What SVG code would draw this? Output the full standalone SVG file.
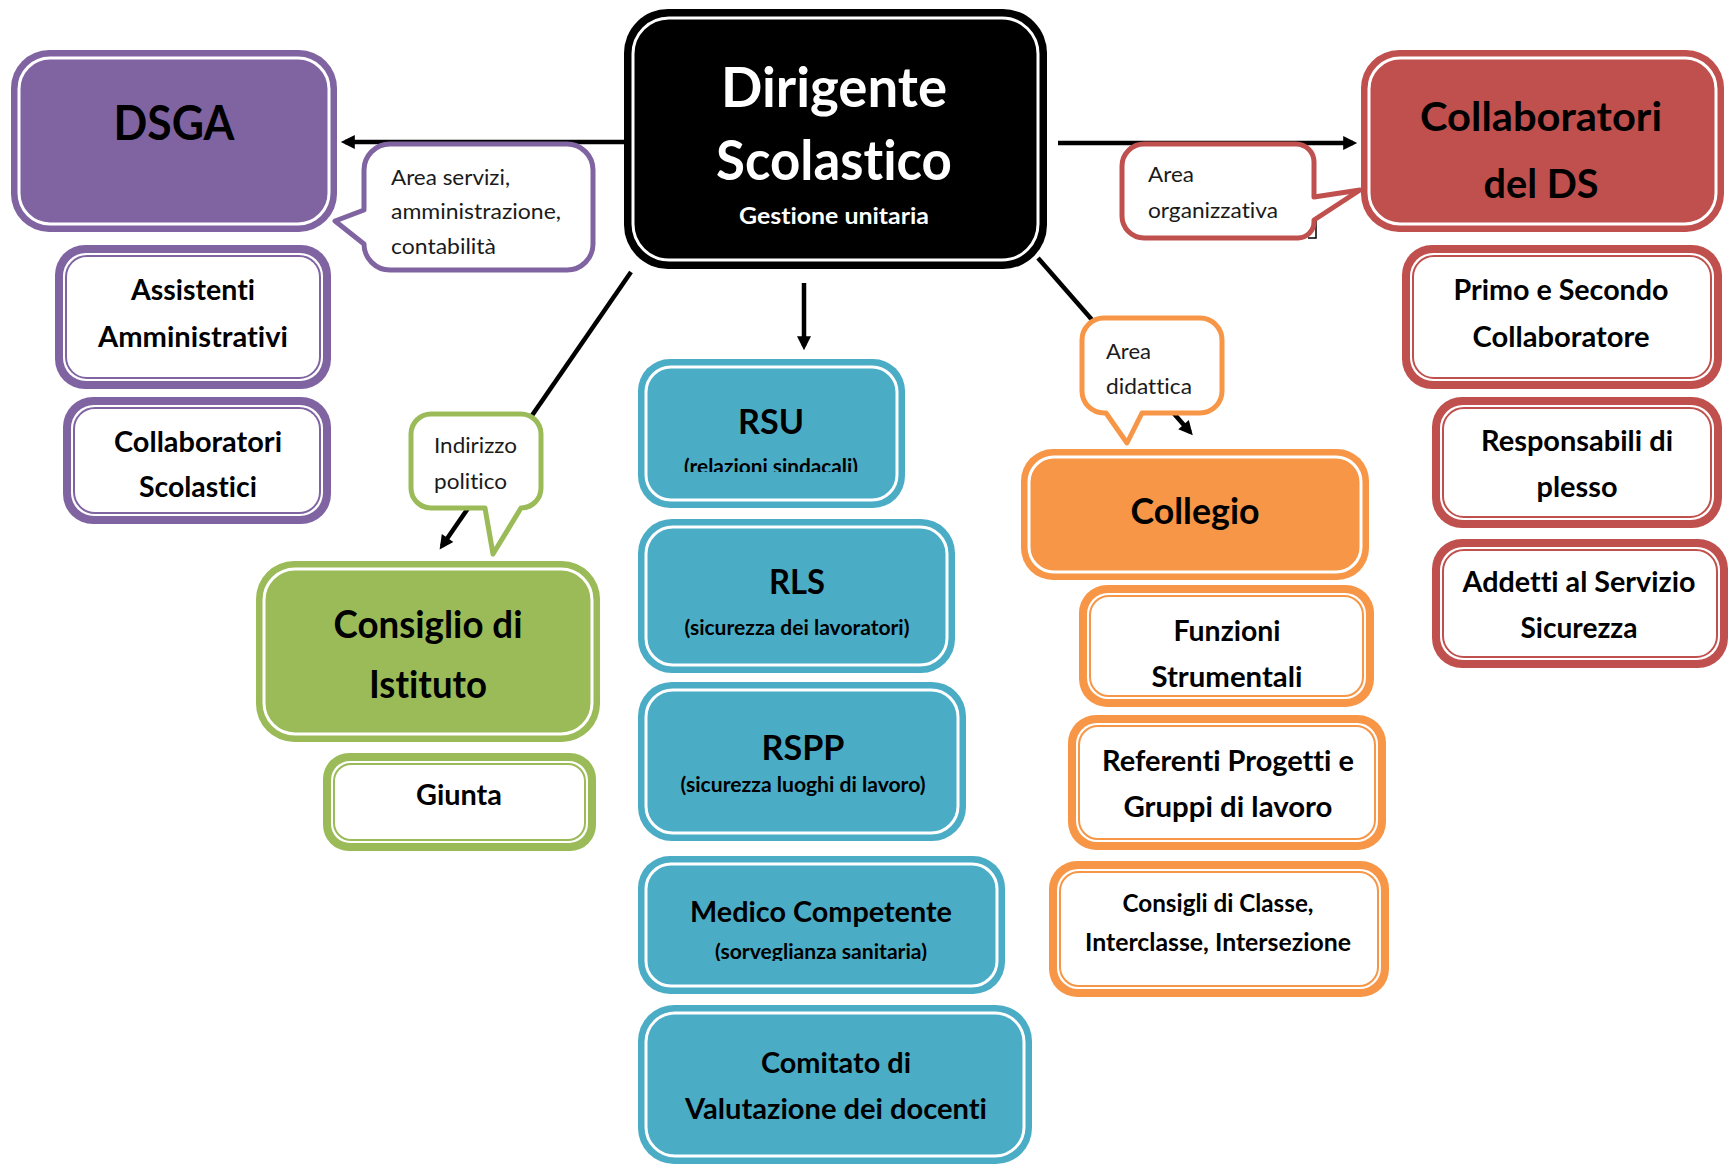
<svg xmlns="http://www.w3.org/2000/svg" width="1731" height="1166" viewBox="0 0 1731 1166">
<defs>
<style>
text{font-variant-ligatures:none;font-feature-settings:"liga" 0,"clig" 0}
.t{font-family:Lato,"Liberation Sans",sans-serif;font-weight:700;text-anchor:middle;fill:#000}
.w{fill:#fff}
.c{font-family:Lato,"Liberation Sans",sans-serif;font-weight:400;fill:#1a1a1a;font-size:22px}
.ln{stroke:#000;stroke-width:4.5;fill:none}
.pu{fill:#8064A2}.gr{fill:#9BBB59}.bl{fill:#4BACC6}.or{fill:#F79646}.rd{fill:#C0504D}
.wf{fill:#fff}
.wl{stroke:#fff;stroke-width:3}
.s-pu{stroke:#8064A2}.s-gr{stroke:#9BBB59}.s-or{stroke:#F79646}.s-rd{stroke:#C0504D}
.thin{fill:none;stroke-width:2}
.bub{fill:#fff;stroke-width:5;stroke-linejoin:round}
</style>
<marker id="ah" viewBox="0 0 10 10" refX="7" refY="5" markerWidth="16" markerHeight="14" markerUnits="userSpaceOnUse" orient="auto">
<path d="M0,0 L10,5 L0,10 z" fill="#000"/>
</marker>
<clipPath id="clipRSU"><rect x="640" y="440" width="260" height="32"/></clipPath>
<clipPath id="clipMed"><rect x="640" y="930" width="360" height="31"/></clipPath>
</defs>
<rect width="1731" height="1166" fill="#fff"/>

<g id="connectors">
<line class="ln" x1="624" y1="142" x2="345" y2="142" marker-end="url(#ah)"/>
<line class="ln" x1="1058" y1="143" x2="1353" y2="143" marker-end="url(#ah)"/>
<line class="ln" x1="804" y1="283" x2="804" y2="346" marker-end="url(#ah)"/>
<line class="ln" x1="631" y1="272" x2="442" y2="546" marker-end="url(#ah)"/>
<line class="ln" x1="1038" y1="258" x2="1190" y2="432" marker-end="url(#ah)"/>
</g>

<g id="dirigente">
<rect x="624" y="9" width="423" height="260" rx="44" fill="#000"/>
<rect x="633" y="18" width="405" height="242" rx="36" fill="#000" class="wl"/>
<text class="t w" x="834" y="107" font-size="55" textLength="226" lengthAdjust="spacingAndGlyphs">Dirigente</text>
<text class="t w" x="834" y="180" font-size="55" textLength="236" lengthAdjust="spacingAndGlyphs">Scolastico</text>
<text class="t w" x="834" y="224" font-size="23" textLength="190" lengthAdjust="spacingAndGlyphs">Gestione unitaria</text>
</g>

<g id="dsga">
<rect x="11" y="50" width="326" height="182" rx="38" class="pu"/>
<rect x="19" y="58" width="310" height="166" rx="31" class="pu wl"/>
<text class="t" x="174" y="140" font-size="48" textLength="121" lengthAdjust="spacingAndGlyphs">DSGA</text>
</g>

<g id="callout-servizi">
<path class="bub s-pu" d="M390,144 H567 A26,26 0 0 1 593,170 V244 A26,26 0 0 1 567,270 H390 A26,26 0 0 1 364,244 L335,221 L364,210 V170 A26,26 0 0 1 390,144 Z"/>
<text class="c" x="391" y="185" textLength="119" lengthAdjust="spacingAndGlyphs">Area servizi,</text>
<text class="c" x="391" y="219" textLength="170" lengthAdjust="spacingAndGlyphs">amministrazione,</text>
<text class="c" x="391" y="254" textLength="105" lengthAdjust="spacingAndGlyphs">contabilità</text>
</g>

<g id="assistenti">
<rect x="55" y="245" width="276" height="144" rx="30" class="pu"/>
<rect x="63" y="253" width="260" height="128" rx="23" class="wf"/>
<rect x="66" y="256" width="254" height="122" rx="21" class="thin s-pu"/>
<text class="t" x="193" y="300" font-size="29" textLength="124" lengthAdjust="spacingAndGlyphs">Assistenti</text>
<text class="t" x="193" y="347" font-size="29" textLength="190" lengthAdjust="spacingAndGlyphs">Amministrativi</text>
</g>

<g id="collaboratori-scolastici">
<rect x="63" y="397" width="268" height="127" rx="30" class="pu"/>
<rect x="71" y="405" width="252" height="111" rx="23" class="wf"/>
<rect x="74" y="408" width="246" height="105" rx="21" class="thin s-pu"/>
<text class="t" x="198" y="452" font-size="29" textLength="168" lengthAdjust="spacingAndGlyphs">Collaboratori</text>
<text class="t" x="198" y="497" font-size="29" textLength="118" lengthAdjust="spacingAndGlyphs">Scolastici</text>
</g>

<g id="callout-indirizzo">
<path class="bub s-gr" d="M431,414 H521 A20,20 0 0 1 541,434 V488 A20,20 0 0 1 521,508 L493,554 L485,508 H431 A20,20 0 0 1 411,488 V434 A20,20 0 0 1 431,414 Z"/>
<text class="c" x="434" y="453" textLength="83" lengthAdjust="spacingAndGlyphs">Indirizzo</text>
<text class="c" x="434" y="489" textLength="73" lengthAdjust="spacingAndGlyphs">politico</text>
</g>

<g id="consiglio-istituto">
<rect x="256" y="561" width="344" height="181" rx="38" class="gr"/>
<rect x="264" y="569" width="328" height="165" rx="31" class="gr wl"/>
<text class="t" x="428" y="638" font-size="38" textLength="189" lengthAdjust="spacingAndGlyphs">Consiglio di</text>
<text class="t" x="428" y="698" font-size="38" textLength="118" lengthAdjust="spacingAndGlyphs">Istituto</text>
</g>

<g id="giunta">
<rect x="323" y="753" width="273" height="98" rx="26" class="gr"/>
<rect x="331" y="761" width="257" height="82" rx="19" class="wf"/>
<rect x="334" y="764" width="251" height="76" rx="17" class="thin s-gr"/>
<text class="t" x="459" y="805" font-size="28" textLength="86" lengthAdjust="spacingAndGlyphs">Giunta</text>
</g>

<g id="rsu">
<rect x="638" y="359" width="267" height="149" rx="32" class="bl"/>
<rect x="646" y="367" width="251" height="133" rx="25" class="bl wl"/>
<text class="t" x="771" y="434" font-size="35" textLength="66" lengthAdjust="spacingAndGlyphs">RSU</text>
<text class="t" x="771" y="474" font-size="21" textLength="174" lengthAdjust="spacingAndGlyphs" clip-path="url(#clipRSU)">(relazioni sindacali)</text>
</g>

<g id="rls">
<rect x="638" y="519" width="317" height="154" rx="34" class="bl"/>
<rect x="646" y="527" width="301" height="138" rx="27" class="bl wl"/>
<text class="t" x="797" y="594" font-size="35" textLength="56" lengthAdjust="spacingAndGlyphs">RLS</text>
<text class="t" x="797" y="635" font-size="21" textLength="225" lengthAdjust="spacingAndGlyphs">(sicurezza dei lavoratori)</text>
</g>

<g id="rspp">
<rect x="638" y="682" width="328" height="159" rx="34" class="bl"/>
<rect x="646" y="690" width="312" height="143" rx="27" class="bl wl"/>
<text class="t" x="803" y="760" font-size="35" textLength="83" lengthAdjust="spacingAndGlyphs">RSPP</text>
<text class="t" x="803" y="792" font-size="21" textLength="245" lengthAdjust="spacingAndGlyphs">(sicurezza luoghi di lavoro)</text>
</g>

<g id="medico">
<rect x="638" y="856" width="367" height="138" rx="32" class="bl"/>
<rect x="646" y="864" width="351" height="122" rx="25" class="bl wl"/>
<text class="t" x="821" y="922" font-size="28" textLength="262" lengthAdjust="spacingAndGlyphs">Medico Competente</text>
<text class="t" x="821" y="959" font-size="21" textLength="212" lengthAdjust="spacingAndGlyphs" clip-path="url(#clipMed)">(sorveglianza sanitaria)</text>
</g>

<g id="comitato">
<rect x="638" y="1005" width="394" height="159" rx="36" class="bl"/>
<rect x="646" y="1013" width="378" height="143" rx="29" class="bl wl"/>
<text class="t" x="836" y="1073" font-size="29" textLength="150" lengthAdjust="spacingAndGlyphs">Comitato di</text>
<text class="t" x="836" y="1119" font-size="29" textLength="302" lengthAdjust="spacingAndGlyphs">Valutazione dei docenti</text>
</g>

<g id="callout-didattica">
<path class="bub s-or" d="M1104,318 H1200 A22,22 0 0 1 1222,340 V391 A22,22 0 0 1 1200,413 H1142 L1127,443 L1106,413 H1104 A22,22 0 0 1 1082,391 V340 A22,22 0 0 1 1104,318 Z"/>
<text class="c" x="1106" y="359" textLength="45" lengthAdjust="spacingAndGlyphs">Area</text>
<text class="c" x="1106" y="394" textLength="86" lengthAdjust="spacingAndGlyphs">didattica</text>
</g>

<g id="collegio">
<rect x="1021" y="449" width="348" height="131" rx="32" class="or"/>
<rect x="1029" y="457" width="332" height="115" rx="25" class="or wl"/>
<text class="t" x="1195" y="524" font-size="36" textLength="129" lengthAdjust="spacingAndGlyphs">Collegio</text>
</g>

<g id="funzioni">
<rect x="1079" y="585" width="295" height="122" rx="28" class="or"/>
<rect x="1087" y="593" width="279" height="106" rx="21" class="wf"/>
<rect x="1090" y="596" width="273" height="100" rx="19" class="thin s-or"/>
<text class="t" x="1227" y="641" font-size="29" textLength="107" lengthAdjust="spacingAndGlyphs">Funzioni</text>
<text class="t" x="1227" y="687" font-size="29" textLength="151" lengthAdjust="spacingAndGlyphs">Strumentali</text>
</g>

<g id="referenti">
<rect x="1068" y="715" width="318" height="135" rx="28" class="or"/>
<rect x="1076" y="723" width="302" height="119" rx="21" class="wf"/>
<rect x="1079" y="726" width="296" height="113" rx="19" class="thin s-or"/>
<text class="t" x="1228" y="771" font-size="29" textLength="252" lengthAdjust="spacingAndGlyphs">Referenti Progetti e</text>
<text class="t" x="1228" y="817" font-size="29" textLength="209" lengthAdjust="spacingAndGlyphs">Gruppi di lavoro</text>
</g>

<g id="consigli-classe">
<rect x="1049" y="861" width="340" height="136" rx="28" class="or"/>
<rect x="1057" y="869" width="324" height="120" rx="21" class="wf"/>
<rect x="1060" y="872" width="318" height="114" rx="19" class="thin s-or"/>
<text class="t" x="1218" y="912" font-size="25" textLength="191" lengthAdjust="spacingAndGlyphs">Consigli di Classe,</text>
<text class="t" x="1218" y="951" font-size="25" textLength="266" lengthAdjust="spacingAndGlyphs">Interclasse, Intersezione</text>
</g>

<g id="callout-organizzativa">
<path d="M1316,195 V238 H1308" fill="none" stroke="#000" stroke-width="1.5"/>
<path class="bub s-rd" d="M1144,144 H1296 A18,18 0 0 1 1314,162 V197 L1360,190 L1314,220 V222 A16,16 0 0 1 1298,238 H1144 A22,22 0 0 1 1122,216 V166 A22,22 0 0 1 1144,144 Z"/>
<text class="c" x="1148" y="182" textLength="46" lengthAdjust="spacingAndGlyphs">Area</text>
<text class="c" x="1148" y="218" textLength="130" lengthAdjust="spacingAndGlyphs">organizzativa</text>
</g>

<g id="collaboratori-ds">
<rect x="1361" y="50" width="363" height="182" rx="38" class="rd"/>
<rect x="1369" y="58" width="347" height="166" rx="31" class="rd wl"/>
<text class="t" x="1541" y="131" font-size="41" textLength="242" lengthAdjust="spacingAndGlyphs">Collaboratori</text>
<text class="t" x="1541" y="198" font-size="41" textLength="115" lengthAdjust="spacingAndGlyphs">del DS</text>
</g>

<g id="primo-secondo">
<rect x="1402" y="245" width="320" height="144" rx="30" class="rd"/>
<rect x="1410" y="253" width="304" height="128" rx="23" class="wf"/>
<rect x="1413" y="256" width="298" height="122" rx="21" class="thin s-rd"/>
<text class="t" x="1561" y="300" font-size="29" textLength="215" lengthAdjust="spacingAndGlyphs">Primo e Secondo</text>
<text class="t" x="1561" y="347" font-size="29" textLength="177" lengthAdjust="spacingAndGlyphs">Collaboratore</text>
</g>

<g id="responsabili">
<rect x="1432" y="397" width="290" height="131" rx="30" class="rd"/>
<rect x="1440" y="405" width="274" height="115" rx="23" class="wf"/>
<rect x="1443" y="408" width="268" height="109" rx="21" class="thin s-rd"/>
<text class="t" x="1577" y="451" font-size="29" textLength="192" lengthAdjust="spacingAndGlyphs">Responsabili di</text>
<text class="t" x="1577" y="497" font-size="29" textLength="81" lengthAdjust="spacingAndGlyphs">plesso</text>
</g>

<g id="addetti">
<rect x="1432" y="539" width="296" height="129" rx="30" class="rd"/>
<rect x="1440" y="547" width="280" height="113" rx="23" class="wf"/>
<rect x="1443" y="550" width="274" height="107" rx="21" class="thin s-rd"/>
<text class="t" x="1579" y="592" font-size="29" textLength="233" lengthAdjust="spacingAndGlyphs">Addetti al Servizio</text>
<text class="t" x="1579" y="638" font-size="29" textLength="117" lengthAdjust="spacingAndGlyphs">Sicurezza</text>
</g>
</svg>
